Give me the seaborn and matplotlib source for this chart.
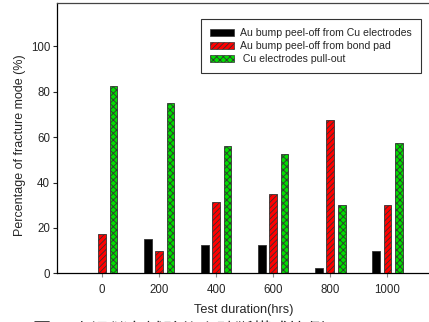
import numpy as np
import pandas as pd
import matplotlib
matplotlib.use("Agg")
import matplotlib.pyplot as plt
import seaborn as sns
from matplotlib.patches import Patch

durations = ["0", "200", "400", "600", "800", "1000"]
series_names = ["Au bump peel-off from Cu electrodes",
                "Au bump peel-off from bond pad",
                " Cu electrodes pull-out"]
cu_peel = [0, 15, 12.5, 12.5, 2.5, 10]
pad_peel = [17.5, 10, 31.3, 35, 67.5, 30]
pull_out = [82.5, 75, 56.2, 52.4, 30, 57.5]
y_ticks = [0, 20, 40, 60, 80, 100]

sns.set_style("white")
plt.rcParams['font.family'] = ['Liberation Sans', 'DejaVu Sans']
plt.rcParams['hatch.linewidth'] = 0.6

df = pd.DataFrame({
    "duration": durations * 3,
    "mode": [series_names[0]] * 6 + [series_names[1]] * 6 + [series_names[2]] * 6,
    "value": cu_peel + pad_peel + pull_out,
})

colors = ["#000000", "#ff0000", "#00dd00"]
hatches = [None, "//////", "xxxxx"]

fig = plt.figure(figsize=(4.29, 3.22), dpi=100)
ax = fig.add_axes([57/429, 48.7/322, 376/429, 270/322])

sns.barplot(data=df, x="duration", y="value", hue="mode", hue_order=series_names,
            order=durations, palette=colors, width=0.6, gap=0.33, ax=ax,
            legend=False, saturation=1, edgecolor="#333333", linewidth=0.6)

for cont, h in zip(ax.containers, hatches):
    for bar in cont:
        if h:
            bar.set_hatch(h)

ax.set_xlim(-0.79, 5.8)
ax.set_ylim(0, 119)
ax.set_yticks(y_ticks)
ax.set_xlabel("")
ax.set_ylabel("")
ax.spines['right'].set_visible(False)
for s in ['left', 'top', 'bottom']:
    ax.spines[s].set_color('#000000')
    ax.spines[s].set_linewidth(0.9)
ax.spines['top'].set_color('#444444')
ax.tick_params(axis='y', direction='out', length=3, width=0.8, labelsize=8.3, pad=2, left=True)
ax.tick_params(axis='x', direction='out', length=3, width=0.8, color='#888888', labelsize=8.3, pad=5, bottom=True)

fig.text(20/429, 1 - 145/322, "Percentage of fracture mode (%)", rotation=90,
         ha='center', va='center', fontsize=9)
fig.text(244/429, 1 - 310/322, "Test duration(hrs)", ha='center', va='center', fontsize=9.2)

handles = [Patch(facecolor=c, edgecolor="#333333", hatch=h, linewidth=0.5)
           for c, h in zip(colors, hatches)]
leg = ax.legend(handles, series_names, loc='upper left', bbox_to_anchor=(0.383, 0.942),
                fontsize=7.6, frameon=True, fancybox=False, borderaxespad=0,
                handlelength=2.3, handleheight=0.65, handletextpad=0.55,
                labelspacing=0.3, borderpad=0.85)
leg.get_frame().set_edgecolor('#000000')
leg.get_frame().set_linewidth(0.8)

fig.text(33/429, 1 - 323/322, "圖 4  高溫儲存試驗後之破斷模式比例", ha='left', va='top',
         fontsize=13, family=['Noto Sans CJK TC', 'DejaVu Sans'])

fig.savefig("out.png", dpi=100)
